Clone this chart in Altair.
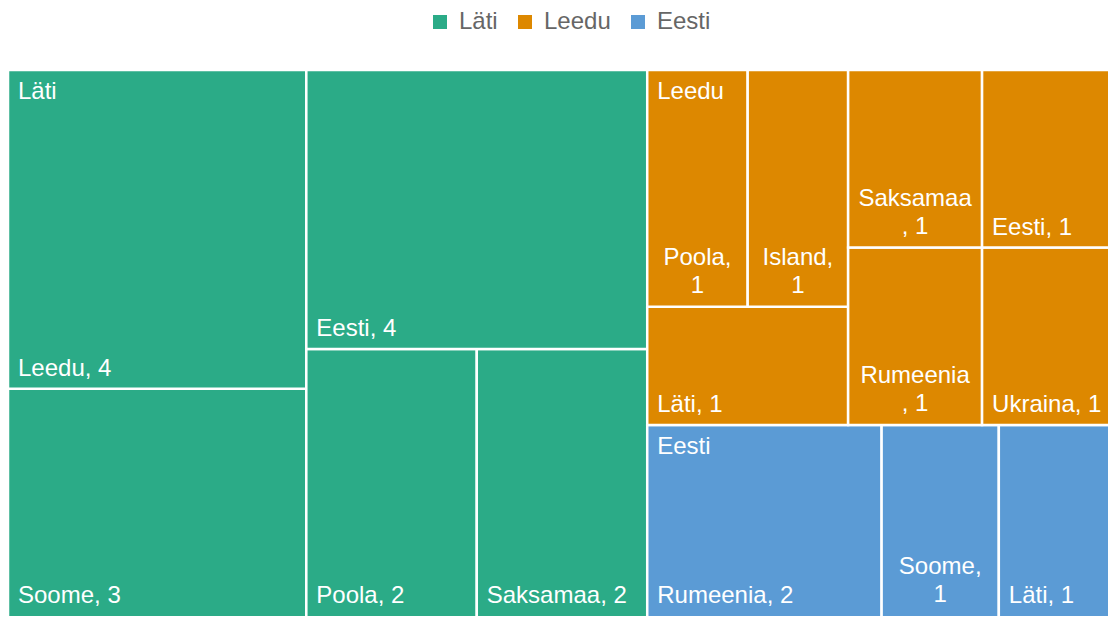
import altair as alt
import pandas as pd

# ---------------- data ----------------
legend_order = ["Läti", "Leedu", "Eesti"]
group_colors = ["#2BAB87", "#DD8800", "#5B9BD5"]

# order in which the groups are laid out
layout_groups = ["Läti", "Eesti", "Leedu"]

lati_names = ["Soome", "Leedu", "Poola", "Saksamaa", "Eesti"]
lati_values = [3, 4, 2, 2, 4]

leedu_names = ["Läti", "Poola", "Island", "Rumeenia", "Ukraina", "Saksamaa", "Eesti"]
leedu_values = [1, 1, 1, 1, 1, 1, 1]

eesti_names = ["Rumeenia", "Soome", "Läti"]
eesti_values = [2, 1, 1]

children = {
    "Läti": (lati_names, lati_values),
    "Leedu": (leedu_names, leedu_values),
    "Eesti": (eesti_names, eesti_values),
}

# layout space (treemap units) and its size on screen
LW, LH = 1310.0, 557.0
PLOT_W_PX, PLOT_H_PX = 1108, 558   # full plot extent (runs past the page edge)
VIEW_W, VIEW_H = 1100, 546         # visible window of the plot
FONT = "Arial"
FS = 24
PAD = 10


# -------------- binary treemap layout --------------
def binary_layout(values, x0, y0, x1, y1):
    n = len(values)
    sums = [0]
    for v in values:
        sums.append(sums[-1] + v)
    out = [None] * n

    def part(i, j, value, x0, y0, x1, y1):
        if i >= j - 1:
            out[i] = (x0, y0, x1, y1)
            return
        off = sums[i]
        target = value / 2 + off
        k, hi = i + 1, j - 1
        while k < hi:
            mid = (k + hi) // 2
            if sums[mid] < target:
                k = mid + 1
            else:
                hi = mid
        if (target - sums[k - 1]) <= (sums[k] - target) and i + 1 < k:
            k -= 1
        vl = sums[k] - off
        vr = value - vl
        if (x1 - x0) > (y1 - y0):
            xk = (x0 * vr + x1 * vl) / value
            part(i, k, vl, x0, y0, xk, y1)
            part(k, j, vr, xk, y0, x1, y1)
        else:
            yk = (y0 * vr + y1 * vl) / value
            part(i, k, vl, x0, y0, x1, yk)
            part(k, j, vr, x0, yk, x1, y1)

    part(0, n, sums[-1], x0, y0, x1, y1)
    return out


# -------------- text measuring (Arial metrics) --------------
CW = {" ": 278, ",": 278, "a": 556, "b": 556, "c": 500, "d": 556, "e": 556,
      "f": 278, "g": 556, "h": 556, "i": 222, "j": 222, "k": 500, "l": 222,
      "m": 833, "n": 556, "o": 556, "p": 556, "r": 333, "s": 500, "t": 278,
      "u": 556, "v": 500, "w": 722, "y": 500, "ä": 556, "õ": 556, "ü": 556,
      "ö": 556, "E": 667, "I": 278, "L": 556, "P": 667, "R": 722, "S": 667,
      "U": 722, "K": 667}


def tw(s):
    return sum(CW.get(c, 556) for c in s) * FS / 1000.0


def wrap(text, avail):
    if tw(text) <= avail:
        return [text]
    lines, cur = [], ""
    for word in text.split(" "):
        cand = (cur + " " + word) if cur else word
        if tw(cand) <= avail:
            cur = cand
            continue
        if cur:
            lines.append(cur)
            cur = ""
        if tw(word) <= avail:
            cur = word
        else:
            for ch in word:
                if tw(cur + ch) <= avail:
                    cur += ch
                else:
                    lines.append(cur)
                    cur = ch
    if cur:
        lines.append(cur)
    return lines


px_per_unit = 1116 / LW   # label wrapping follows the original cell widths
# lowest layout y still inside the visible window (labels are kept above it)
y_visible_min = LH * (PLOT_H_PX - VIEW_H) / PLOT_H_PX

group_totals = [sum(children[g][1]) for g in layout_groups]
group_rects = binary_layout(group_totals, 0, 0, LW, LH)

leaf_rows, group_rows = [], []
for g, (gx0, gy0, gx1, gy1) in zip(layout_groups, group_rects):
    group_rows.append({"group": g, "x0": gx0, "y1": gy1})
    names, vals = children[g]
    for name, v, (x0, y0, x1, y1) in zip(names, vals,
                                         binary_layout(vals, gx0, gy0, gx1, gy1)):
        label = f"{name}, {v}"
        lines = wrap(label, (x1 - x0) * px_per_unit - 2 * PAD)
        leaf_rows.append({"group": g, "name": name, "value": v,
                          "x0": x0, "x1": x1, "y0": y0, "y1": y1,
                          "ylab": max(y0, y_visible_min),
                          "xc": (x0 + x1) / 2, "label": "\n".join(lines),
                          "nlines": len(lines)})

leaves = pd.DataFrame(leaf_rows)
heads = pd.DataFrame(group_rows)

xs = alt.Scale(domain=[0, LW], range=[0, PLOT_W_PX], nice=False, zero=False)
ys = alt.Scale(domain=[0, LH], range=[PLOT_H_PX, 0], nice=False, zero=False)

base = alt.Chart(leaves)

rects = base.mark_rect(stroke="white", strokeWidth=2.5, clip=True).encode(
    x=alt.X("x0:Q", scale=xs, axis=None),
    x2="x1:Q",
    y=alt.Y("y0:Q", scale=ys, axis=None),
    y2="y1:Q",
    color=alt.Color(
        "group:N",
        scale=alt.Scale(domain=legend_order, range=group_colors),
        legend=alt.Legend(
            title=None, orient="none", direction="horizontal",
            legendX=420, legendY=-60,
            labelFontSize=FS, labelFont=FONT, labelColor="#666666",
            symbolType="square", symbolSize=196, symbolStrokeWidth=0,
            labelOffset=7, columnPadding=15,
        ),
    ),
)

single = base.transform_filter("datum.nlines == 1").mark_text(
    align="left", baseline="alphabetic", dx=PAD, dy=-13, clip=True,
    font=FONT, fontSize=FS, color="white",
).encode(
    x=alt.X("x0:Q", scale=xs, axis=None),
    y=alt.Y("ylab:Q", scale=ys, axis=None),
    text="label:N",
)

multi = base.transform_filter("datum.nlines > 1").mark_text(
    align="center", baseline="alphabetic", dy=-14 - 28, lineHeight=28,
    lineBreak="\n", clip=True, font=FONT, fontSize=FS, color="white",
).encode(
    x=alt.X("xc:Q", scale=xs, axis=None),
    y=alt.Y("ylab:Q", scale=ys, axis=None),
    text="label:N",
)

titles = alt.Chart(heads).mark_text(
    align="left", baseline="alphabetic", dx=PAD, dy=29, clip=True,
    font=FONT, fontSize=FS, color="white",
).encode(
    x=alt.X("x0:Q", scale=xs, axis=None),
    y=alt.Y("y1:Q", scale=ys, axis=None),
    text="group:N",
)

chart = alt.layer(rects, single, multi, titles).properties(
    width=VIEW_W, height=VIEW_H,
    autosize=alt.AutoSizeParams(type="none"),
    padding={"left": 0, "top": 62, "right": 0, "bottom": 0},
).configure_view(stroke=None)

chart.save("out.html", embed_options={"renderer": "svg", "actions": False})
